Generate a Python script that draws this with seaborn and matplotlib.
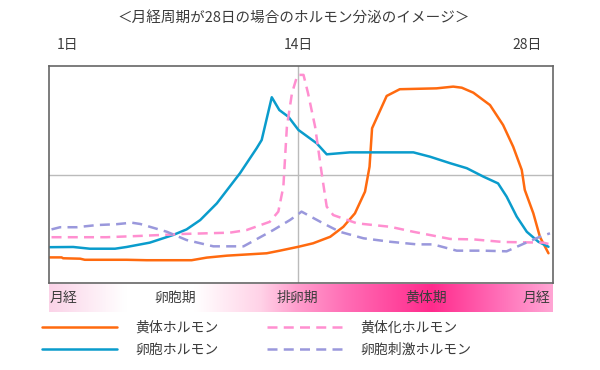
import numpy as np
import pandas as pd
import matplotlib
matplotlib.use('Agg')
import matplotlib.pyplot as plt
from matplotlib.colors import LinearSegmentedColormap
import seaborn as sns

# x: position in the cycle (0-100 across the box), y: relative hormone level (0-100)
progesterone_x = [0, 2.5, 2.8, 6.2, 7.1, 15.4, 19.4, 28.3, 31.3, 35.3, 43.2, 45.8, 49.5, 52.4,
                  55.8, 58.4, 60.7, 62.7, 63.6, 64.1, 67.0, 69.6, 76.9, 80.2, 81.9, 84.2, 87.5,
                  90.1, 92.1, 93.8, 94.4, 96.1, 97.4, 99.1]
progesterone_y = [11.8, 11.8, 11.4, 11.2, 10.7, 10.7, 10.5, 10.5, 11.7, 12.6, 13.7, 14.9, 16.7, 18.3,
                  21.3, 25.9, 32.1, 42.1, 53.6, 71.3, 86.2, 89.3, 89.7, 90.5, 90.0, 87.7, 82.0,
                  72.8, 62.8, 52.1, 42.9, 32.1, 21.3, 13.7]

estrogen_x = [0, 4.8, 8.1, 13.1, 15.4, 20.0, 24.6, 27.3, 30.0, 33.3, 37.9, 41.2, 42.2, 44.2, 45.7,
              47.5, 49.5, 53.1, 55.1, 59.7, 72.3, 75.6, 79.6, 82.9, 86.2, 89.1, 90.8, 92.8, 94.8,
              97.1, 99.1]
estrogen_y = [16.5, 16.6, 15.8, 15.8, 16.6, 18.6, 22.1, 24.7, 29.0, 36.7, 50.6, 62.1, 65.9, 85.6, 79.7,
              76.6, 70.5, 64.4, 59.3, 60.2, 60.2, 58.2, 55.2, 52.9, 49.0, 45.9, 39.8, 30.6, 23.6,
              19.0, 16.7]

lh_x = [0.5, 11.4, 18.1, 26.6, 35.9, 39.2, 43.8, 45.5, 46.5, 47.2, 48.2, 49.3, 50.5, 51.4, 52.8,
        54.1, 55.1, 56.4, 61.1, 67.7, 72.3, 79.6, 84.2, 90.1, 98.1, 99.1]
lh_y = [21.1, 21.1, 21.7, 22.6, 23.2, 24.4, 28.2, 32.9, 44.4, 72.0, 87.4, 95.9, 95.9, 87.4, 72.0,
        50.6, 35.2, 31.3, 27.5, 25.9, 23.6, 20.3, 20.1, 18.9, 18.6, 18.0]

fsh_x = [0.5, 2.2, 5.5, 9.5, 13.4, 16.4, 18.1, 23.4, 27.3, 32.6, 38.6, 44.5, 47.8, 49.5, 50.1,
         54.4, 57.7, 62.4, 67.7, 73.0, 76.2, 80.9, 86.2, 90.8, 94.1, 97.4, 99.4]
fsh_y = [24.7, 25.7, 25.7, 26.7, 27.1, 27.8, 27.2, 23.6, 19.8, 16.9, 16.9, 24.4, 29.0, 31.8, 32.9,
         27.5, 23.6, 20.6, 19.0, 17.8, 17.8, 14.9, 14.9, 14.6, 18.0, 21.3, 22.9]

series_names = ['黄体ホルモン', '卵胞ホルモン', '黄体化ホルモン', '卵胞刺激ホルモン']
series_colors = ['#ff6a0f', '#0a9ccc', '#ff8fd0', '#9a98dc']

day_labels = ['1日', '14日', '28日']
day_pos = [3.6, 49.4, 94.8]
phase_names = ['月経', '卵胞期', '排卵期', '黄体期', '月経']
phase_pos = [2.9, 25.0, 49.2, 74.8, 96.8]

sns.set_style('white')
plt.rcParams['font.family'] = ['Noto Sans CJK JP', 'DejaVu Sans']
text_color = '#3c3c3c'

fig = plt.figure(figsize=(6, 3.7), dpi=100)
ax = fig.add_axes([49 / 600, 1 - 283 / 370, 504 / 600, 217 / 370])

frames = []
for name, xs, ys in [(series_names[0], progesterone_x, progesterone_y),
                     (series_names[1], estrogen_x, estrogen_y),
                     (series_names[2], lh_x, lh_y),
                     (series_names[3], fsh_x, fsh_y)]:
    frames.append(pd.DataFrame({'x': xs, 'y': ys, 'hormone': name}))
df = pd.concat(frames, ignore_index=True)

ax.axvline(day_pos[1], color='#bbbbbb', lw=1, zorder=0)
ax.axhline(50, color='#bbbbbb', lw=1, zorder=0)

sns.lineplot(data=df, x='x', y='y', hue='hormone', style='hormone',
             hue_order=series_names, style_order=series_names,
             palette=series_colors,
             dashes={series_names[0]: '', series_names[1]: '',
                     series_names[2]: (4, 2.5), series_names[3]: (4, 2.5)},
             sort=False, estimator=None, linewidth=1.8, ax=ax, legend=False)

ax.set_xlim(0, 100)
ax.set_ylim(0, 100)
ax.set_xlabel('')
ax.set_ylabel('')
ax.set_yticks([])
ax.xaxis.tick_top()
ax.set_xticks(day_pos)
ax.set_xticklabels(day_labels, fontsize=10, color=text_color)
ax.tick_params(axis='x', length=0, pad=10)
for s in ax.spines.values():
    s.set_color('#666666')
    s.set_linewidth(1.2)

fig.text(294 / 600, 1 - 18 / 370, '＜月経周期が28日の場合のホルモン分泌のイメージ＞',
         ha='center', va='center', fontsize=10.5, color=text_color)

# phase bar
bar = fig.add_axes([49 / 600, 1 - 312 / 370, 504 / 600, 28 / 370])
stops = [(0.0, '#fbd3e8'), (0.15, '#ffffff'), (0.29, '#ffffff'), (0.42, '#ffd2e7'),
         (0.49, '#ff9fce'), (0.59, '#ff6db5'), (0.76, '#ff2a8c'), (0.89, '#ff6cb6'),
         (1.0, '#ffa5d4')]
cmap = LinearSegmentedColormap.from_list('phase', stops)
bar.imshow(np.linspace(0, 1, 256)[None, :], aspect='auto', cmap=cmap,
           extent=[0, 100, 0, 1])
bar.set_xlim(0, 100)
bar.set_ylim(0, 1)
bar.axis('off')
for name, px in zip(phase_names, phase_pos):
    bar.text(px, 0.5, name, ha='center', va='center', fontsize=10, color=text_color)

# legend
handles = [plt.Line2D([], [], color=series_colors[0], lw=1.8),
           plt.Line2D([], [], color=series_colors[1], lw=1.8),
           plt.Line2D([], [], color=series_colors[2], lw=1.8, dashes=(4, 2.5)),
           plt.Line2D([], [], color=series_colors[3], lw=1.8, dashes=(4, 2.5))]
leg = fig.legend(handles, series_names, ncol=2, loc='upper left',
                 bbox_to_anchor=(42 / 600, 1 - 321 / 370), frameon=False,
                 fontsize=10, handlelength=5.4, handletextpad=1.3,
                 columnspacing=3.5, labelspacing=0.55, borderpad=0, borderaxespad=0)
for t in leg.get_texts():
    t.set_color(text_color)

fig.savefig('out.png', dpi=100)
